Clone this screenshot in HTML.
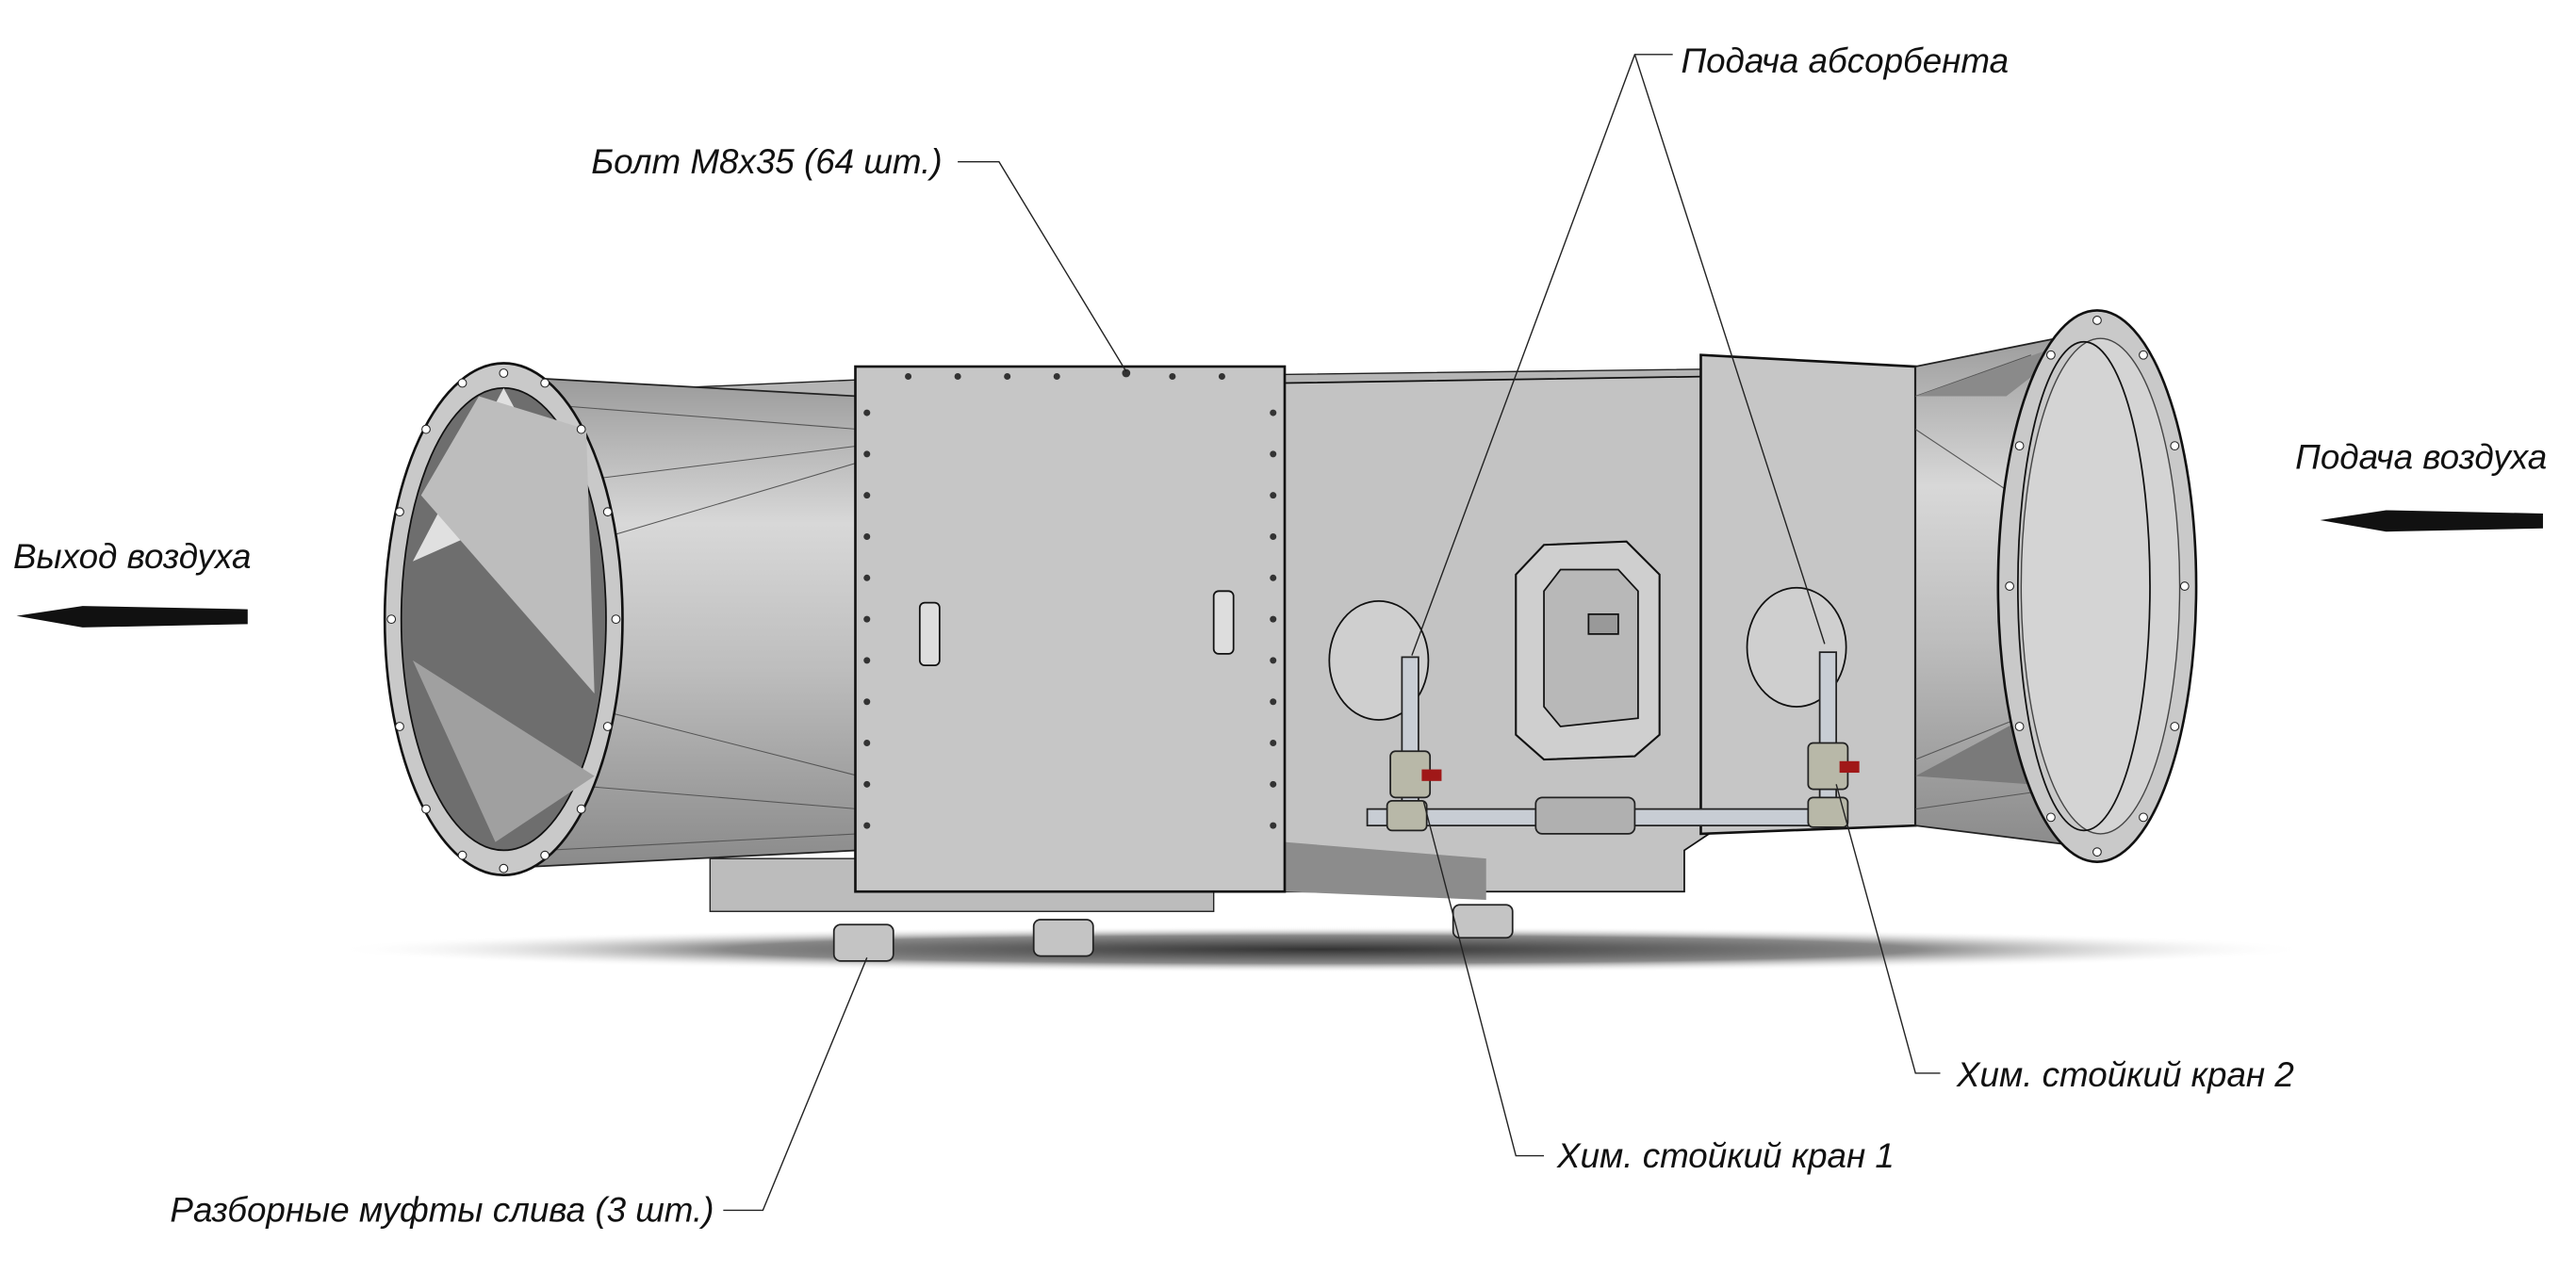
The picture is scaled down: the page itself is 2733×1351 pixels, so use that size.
<!DOCTYPE html>
<html><head><meta charset="utf-8"><style>
html,body{margin:0;padding:0;background:#fff;}
svg{display:block;}
text{font-family:"Liberation Sans","DejaVu Sans",sans-serif;font-style:italic;font-size:21px;fill:#111;}
</style></head><body>
<svg width="2733" height="1351" viewBox="0 0 1560 771" preserveAspectRatio="none" xmlns="http://www.w3.org/2000/svg">
<defs>
<radialGradient id="sh" cx="50%" cy="50%" r="50%">
<stop offset="0" stop-color="#333"/><stop offset="0.6" stop-color="#888"/><stop offset="1" stop-color="#fff" stop-opacity="0"/>
</radialGradient>
<linearGradient id="cone" x1="0" y1="0" x2="0" y2="1">
<stop offset="0" stop-color="#9a9a9a"/><stop offset="0.3" stop-color="#d8d8d8"/><stop offset="0.6" stop-color="#bdbdbd"/><stop offset="1" stop-color="#8a8a8a"/>
</linearGradient>
</defs>
<ellipse cx="800" cy="575" rx="600" ry="14" fill="url(#sh)"/>
<polygon points="340,238 520,230 1160,222 1160,232 520,240 345,248" fill="#b5b5b5" stroke="#222" stroke-width="0.8"/>
<polygon points="305,228 520,240 520,515 320,525" fill="url(#cone)" stroke="#222" stroke-width="1"/>
<g stroke="#555" stroke-width="0.6">
<line x1="330" y1="245" x2="520" y2="260"/><line x1="360" y1="290" x2="520" y2="270"/><line x1="250" y1="360" x2="520" y2="280"/>
<line x1="245" y1="400" x2="520" y2="470"/><line x1="280" y1="470" x2="520" y2="490"/><line x1="330" y1="515" x2="520" y2="505"/>
</g>
<ellipse cx="305" cy="375" rx="72" ry="155" fill="#c9c9c9" stroke="#111" stroke-width="1.5"/>
<ellipse cx="305" cy="375" rx="62" ry="140" fill="#6e6e6e" stroke="#111" stroke-width="1"/>
<path d="M305,235 L340,300 L250,340 Z" fill="#e0e0e0"/>
<path d="M250,400 L360,470 L300,510 Z" fill="#a0a0a0"/>
<path d="M290,240 L355,260 L360,420 L255,300 Z" fill="#bdbdbd"/>
<g fill="#fff" stroke="#222" stroke-width="0.6">
<circle cx="305" cy="226" r="2.5"/><circle cx="330" cy="232" r="2.5"/><circle cx="352" cy="260" r="2.5"/><circle cx="368" cy="310" r="2.5"/><circle cx="373" cy="375" r="2.5"/><circle cx="368" cy="440" r="2.5"/><circle cx="352" cy="490" r="2.5"/><circle cx="330" cy="518" r="2.5"/><circle cx="305" cy="526" r="2.5"/><circle cx="280" cy="518" r="2.5"/><circle cx="258" cy="490" r="2.5"/><circle cx="242" cy="440" r="2.5"/><circle cx="237" cy="375" r="2.5"/><circle cx="242" cy="310" r="2.5"/><circle cx="258" cy="260" r="2.5"/><circle cx="280" cy="232" r="2.5"/>
</g>
<polygon points="778,232 1035,228 1035,505 1020,515 1020,540 778,540" fill="#c3c3c3" stroke="#111" stroke-width="1"/>
<polygon points="778,510 900,520 900,545 778,540" fill="#8c8c8c"/>
<rect x="430" y="520" width="305" height="32" fill="#bcbcbc" stroke="#222" stroke-width="0.8"/>
<rect x="518" y="222" width="260" height="318" fill="#c6c6c6" stroke="#111" stroke-width="1.5"/>
<rect x="557" y="365" width="12" height="38" rx="3" fill="#ddd" stroke="#111"/>
<rect x="735" y="358" width="12" height="38" rx="3" fill="#ddd" stroke="#111"/>
<g fill="#333">
<circle cx="525" cy="250" r="2"/><circle cx="525" cy="275" r="2"/><circle cx="525" cy="300" r="2"/><circle cx="525" cy="325" r="2"/><circle cx="525" cy="350" r="2"/><circle cx="525" cy="375" r="2"/><circle cx="525" cy="400" r="2"/><circle cx="525" cy="425" r="2"/><circle cx="525" cy="450" r="2"/><circle cx="525" cy="475" r="2"/><circle cx="525" cy="500" r="2"/>
<circle cx="771" cy="250" r="2"/><circle cx="771" cy="275" r="2"/><circle cx="771" cy="300" r="2"/><circle cx="771" cy="325" r="2"/><circle cx="771" cy="350" r="2"/><circle cx="771" cy="375" r="2"/><circle cx="771" cy="400" r="2"/><circle cx="771" cy="425" r="2"/><circle cx="771" cy="450" r="2"/><circle cx="771" cy="475" r="2"/><circle cx="771" cy="500" r="2"/>
<circle cx="550" cy="228" r="2"/><circle cx="580" cy="228" r="2"/><circle cx="610" cy="228" r="2"/><circle cx="640" cy="228" r="2"/><circle cx="682" cy="226" r="2.5"/><circle cx="710" cy="228" r="2"/><circle cx="740" cy="228" r="2"/>
</g>
<polygon points="1030,215 1160,222 1160,500 1030,505" fill="#c6c6c6" stroke="#111" stroke-width="1.5"/>
<polygon points="1160,222 1270,200 1280,515 1160,500" fill="url(#cone)" stroke="#222" stroke-width="1"/>
<g stroke="#555" stroke-width="0.6">
<line x1="1160" y1="240" x2="1230" y2="215"/><line x1="1160" y1="260" x2="1220" y2="300"/><line x1="1160" y1="460" x2="1310" y2="400"/><line x1="1160" y1="490" x2="1300" y2="470"/>
</g>
<polygon points="1160,470 1310,390 1300,480" fill="#7a7a7a"/>
<polygon points="1160,240 1260,205 1215,240" fill="#8a8a8a"/>
<ellipse cx="1270" cy="355" rx="60" ry="167" fill="#c9c9c9" stroke="#111" stroke-width="1.5"/>
<ellipse cx="1272" cy="355" rx="48" ry="150" fill="#d4d4d4" stroke="#444" stroke-width="0.8"/>
<ellipse cx="1262" cy="355" rx="40" ry="148" fill="none" stroke="#111" stroke-width="1"/>
<g fill="#fff" stroke="#222" stroke-width="0.6">
<circle cx="1270" cy="194" r="2.5"/><circle cx="1298" cy="215" r="2.5"/><circle cx="1317" cy="270" r="2.5"/><circle cx="1323" cy="355" r="2.5"/><circle cx="1317" cy="440" r="2.5"/><circle cx="1298" cy="495" r="2.5"/><circle cx="1270" cy="516" r="2.5"/><circle cx="1242" cy="495" r="2.5"/><circle cx="1223" cy="440" r="2.5"/><circle cx="1217" cy="355" r="2.5"/><circle cx="1223" cy="270" r="2.5"/><circle cx="1242" cy="215" r="2.5"/>
</g>
<ellipse cx="835" cy="400" rx="30" ry="36" fill="#cfcfcf" stroke="#111"/>
<ellipse cx="1088" cy="392" rx="30" ry="36" fill="#cfcfcf" stroke="#111"/>
<polygon points="935,330 985,328 1005,348 1005,445 990,458 935,460 918,445 918,348" fill="#cfcfcf" stroke="#111" stroke-width="1.2"/>
<polygon points="945,345 980,345 992,358 992,435 945,440 935,428 935,358" fill="#b8b8b8" stroke="#111"/>
<rect x="962" y="372" width="18" height="12" fill="#999" stroke="#111"/>
<g stroke="#222" stroke-width="1" fill="#c8cdd4">
<rect x="849" y="398" width="10" height="95" />
<rect x="1102" y="395" width="10" height="95" />
<rect x="828" y="490" width="285" height="10"/>
<rect x="930" y="483" width="60" height="22" rx="4" fill="#b0b0b0"/>
<rect x="842" y="455" width="24" height="28" rx="3" fill="#b8b8a8"/>
<rect x="1095" y="450" width="24" height="28" rx="3" fill="#b8b8a8"/>
<rect x="840" y="485" width="24" height="18" rx="3" fill="#b8b8a8"/>
<rect x="1095" y="483" width="24" height="18" rx="3" fill="#b8b8a8"/>
</g>
<rect x="861" y="466" width="12" height="7" fill="#a01818"/>
<rect x="1114" y="461" width="12" height="7" fill="#a01818"/>
<g stroke="#222" stroke-width="1" fill="#c4c4c4">
<rect x="505" y="560" width="36" height="22" rx="4"/><rect x="626" y="557" width="36" height="22" rx="4"/><rect x="880" y="548" width="36" height="20" rx="4"/>
</g>
<polygon points="10,373 50,367 150,369 150,378 50,380" fill="#111"/>
<polygon points="1405,315 1445,309 1540,311 1540,320 1445,322" fill="#111"/>
<g stroke="#222" stroke-width="0.8" fill="none">
<polyline points="580,98 605,98 682,225"/>
<polyline points="1013,33 990,33 855,397"/>
<line x1="990" y1="33" x2="1105" y2="390"/>
<polyline points="1175,650 1160,650 1112,475"/>
<polyline points="935,700 918,700 862,485"/>
<polyline points="438,733 462,733 525,580"/>
</g>
<text x="358" y="105">Болт М8х35 (64 шт.)</text>
<text x="1018" y="44">Подача абсорбента</text>
<text x="1390" y="284">Подача воздуха</text>
<text x="8" y="344">Выход воздуха</text>
<text x="1185" y="658">Хим. стойкий кран 2</text>
<text x="943" y="707">Хим. стойкий кран 1</text>
<text x="103" y="740">Разборные муфты слива (3 шт.)</text>
</svg>
</body></html>
